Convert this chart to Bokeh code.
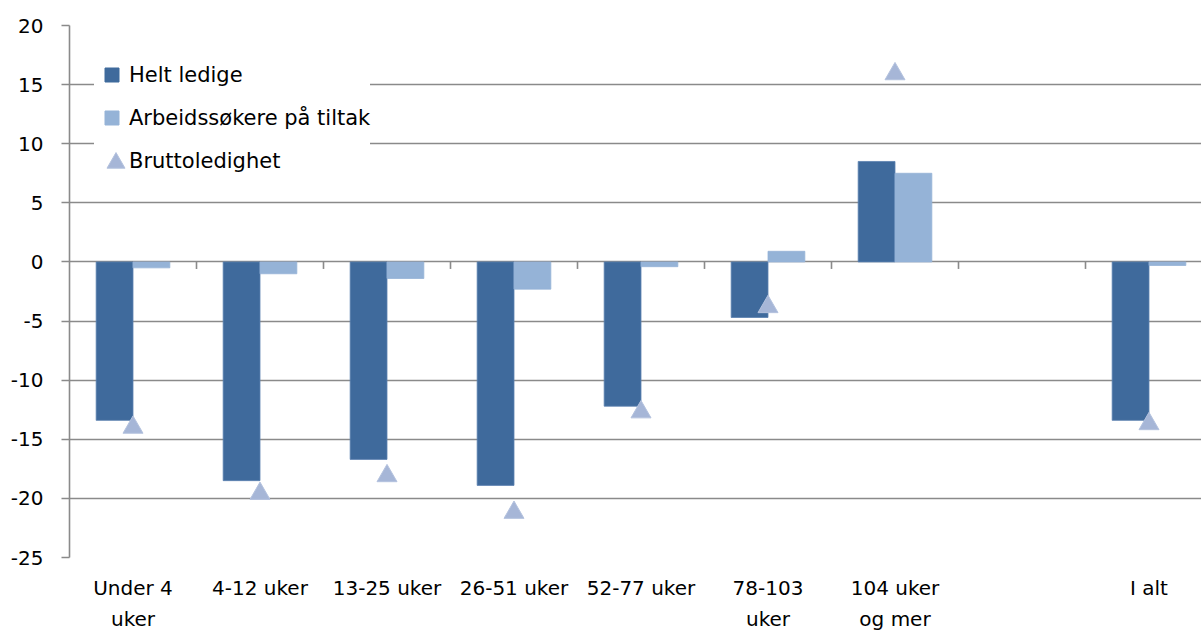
from bokeh.plotting import figure
from bokeh.models import Range1d, FixedTicker, Legend, LegendItem, ColumnDataSource
from bokeh.embed import file_html
from bokeh.resources import INLINE

categories = ["Under 4\nuker", "4-12 uker", "13-25 uker", "26-51 uker", "52-77 uker",
              "78-103\nuker", "104 uker\nog mer", "", "I alt"]
helt_ledige = [-13.4, -18.5, -16.7, -18.9, -12.2, -4.7, 8.5, None, -13.4]
arbeidssokere = [-0.5, -1.0, -1.4, -2.3, -0.4, 0.9, 7.5, None, -0.3]
bruttoledighet = [-14.0, -19.6, -18.1, -21.2, -12.7, -3.8, 15.9, None, -13.7]
series_names = ["Helt ledige", "Arbeidssøkere på tiltak", "Bruttoledighet"]
y_ticks = [-25, -20, -15, -10, -5, 0, 5, 10, 15, 20]

FONT = "DejaVu Sans"
DARK = "#3F6A9C"
LIGHT = "#95B3D7"
TRI = "#A6B6D7"
GRID = "#8A8A8A"

n = len(categories)
centers = [i + 0.5 for i in range(n)]
bw = 0.29

def src(vals, off):
    xs, ys = [], []
    for c, v in zip(centers, vals):
        if v is not None:
            xs.append(c + off)
            ys.append(v)
    return ColumnDataSource(dict(x=xs, y=ys))

W, H = 1201, 634
LEFT, TOP, BOTTOM = 69, 25, 77
frame_w = W - LEFT
x_end = frame_w / 127.0

p = figure(width=W, height=H, output_backend="svg", toolbar_location=None,
           x_range=Range1d(0, x_end), y_range=Range1d(-25, 20),
           min_border_left=LEFT, min_border_right=0, min_border_top=TOP, min_border_bottom=BOTTOM)
p.outline_line_color = None
p.background_fill_color = "white"

# grid
p.xgrid.grid_line_color = None
p.ygrid.grid_line_color = GRID
p.ygrid.grid_line_width = 1.6
p.ygrid.ticker = FixedTicker(ticks=y_ticks)

# y axis
p.yaxis.ticker = FixedTicker(ticks=y_ticks)
p.yaxis.major_label_overrides = {t: str(t) for t in y_ticks}
p.yaxis.axis_line_color = GRID
p.yaxis.axis_line_width = 1.6
p.yaxis.major_tick_line_color = GRID
p.yaxis.major_tick_line_width = 1.6
p.yaxis.major_tick_out = 8
p.yaxis.major_tick_in = 0
p.yaxis.minor_tick_line_color = None
p.yaxis.major_label_standoff = 18
p.yaxis.major_label_text_font = FONT
p.yaxis.major_label_text_font_size = "20px"
p.yaxis.major_label_text_color = "black"

# x axis (labels only, at bottom)
p.xaxis.ticker = FixedTicker(ticks=centers)
p.xaxis.major_label_overrides = {c: lab for c, lab in zip(centers, categories)}
p.xaxis.axis_line_color = None
p.xaxis.major_tick_line_color = None
p.xaxis.minor_tick_line_color = None
p.xaxis.major_label_standoff = 12
p.xaxis.major_label_text_font = FONT
p.xaxis.major_label_text_font_size = "20px"
p.xaxis.major_label_text_color = "black"
p.xaxis.major_label_text_line_height = 1.3

# category-boundary tick marks on the zero line
bounds = [float(i) for i in range(1, n)]
tick_len = 7 * 45.0 / 532.0
p.segment(x0=bounds, y0=[0] * len(bounds), x1=bounds, y1=[-tick_len] * len(bounds),
          line_color=GRID, line_width=1.6)

# bars
p.vbar(x="x", top="y", bottom=0, width=bw, source=src(helt_ledige, -bw / 2),
       fill_color=DARK, line_color="#5A80B0", line_width=0.8)
p.vbar(x="x", top="y", bottom=0, width=bw, source=src(arbeidssokere, bw / 2),
       fill_color=LIGHT, line_color=LIGHT, line_width=0.8)
p.scatter(x="x", y="y", source=src(bruttoledighet, 0), marker="triangle", size=20,
          fill_color=TRI, line_color="#B4C2DE", line_width=1)

# legend: off-range proxy markers so legend glyphs look like the original
d1 = p.scatter(x=[-10], y=[-100], marker="square", fill_color=DARK, line_color=DARK)
d2 = p.scatter(x=[-10], y=[-100], marker="square", fill_color=LIGHT, line_color=LIGHT)
d3 = p.scatter(x=[-10], y=[-100], marker="triangle", fill_alpha=0, line_alpha=0)
legend = Legend(items=[LegendItem(label=series_names[0], renderers=[d1]),
                       LegendItem(label=series_names[1], renderers=[d2]),
                       LegendItem(label=series_names[2], renderers=[d3])],
                location=(25, 379), orientation="vertical",
                glyph_width=35, glyph_height=35, label_height=35, spacing=8,
                label_standoff=0, padding=6, margin=0,
                background_fill_color="white", background_fill_alpha=1.0,
                border_line_color=None,
                label_text_font=FONT, label_text_font_size="21px", label_text_color="black")
p.add_layout(legend)

# larger triangle symbol for the third legend entry
d4 = p.scatter(x=[-10], y=[-100], marker="triangle", fill_color=TRI, line_color="#B4C2DE")
legend2 = Legend(items=[LegendItem(label=" ", renderers=[d4])],
                 location=(24, 372), orientation="vertical",
                 glyph_width=45, glyph_height=45, label_height=20, spacing=0,
                 label_standoff=0, padding=0, margin=0,
                 background_fill_alpha=0.0, border_line_color=None,
                 label_text_font=FONT, label_text_font_size="10px")
p.add_layout(legend2)

open("out.html", "w").write(file_html(p, INLINE))
